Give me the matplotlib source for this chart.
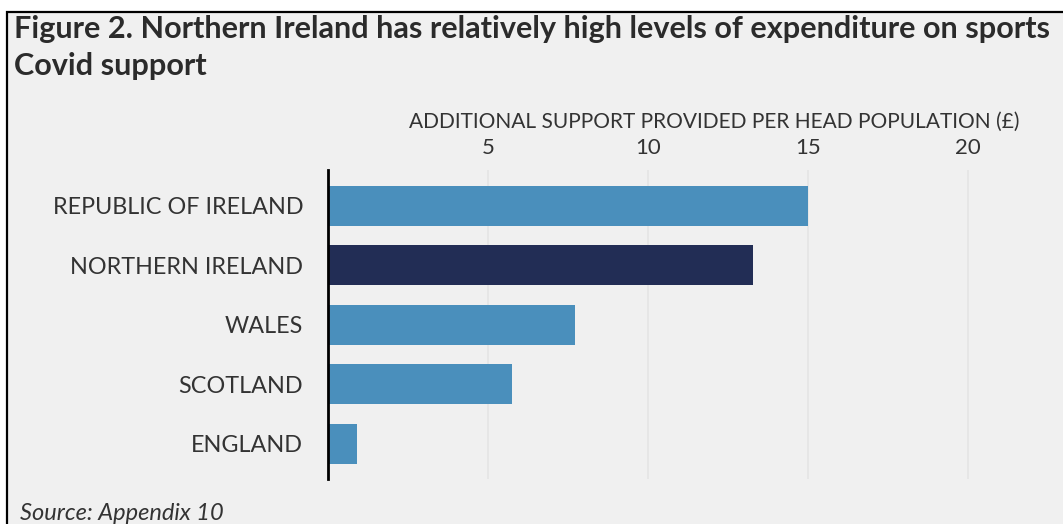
import matplotlib
matplotlib.use("Agg")
import matplotlib.pyplot as plt
from matplotlib.patches import Rectangle

categories = ["REPUBLIC OF IRELAND", "NORTHERN IRELAND", "WALES", "SCOTLAND", "ENGLAND"]
values = [15.0, 13.27, 7.73, 5.76, 0.90]
colors = ["#4A8FBC", "#222D55", "#4A8FBC", "#4A8FBC", "#4A8FBC"]
xticks = [5, 10, 15, 20]
title1 = "Figure 2. Northern Ireland has relatively high levels of expenditure on sports"
title2 = "Covid support"
xlabel = "ADDITIONAL SUPPORT PROVIDED PER HEAD POPULATION (£)"
source = "Source: Appendix 10"

W, H = 1063, 524
fig = plt.figure(figsize=(W / 100, H / 100), dpi=100, facecolor="white")

# frame
fig.patches.append(Rectangle((7 / W, -0.1), 1.2, (H - 12) / H + 0.1, transform=fig.transFigure,
                             facecolor="#F0F0F0", edgecolor="black", linewidth=1.6, zorder=-10))

left, right = 328.3, 1063
top, bottom = 170, 479.3
ax = fig.add_axes([left / W, (H - bottom) / H, (right - left) / W, (bottom - top) / H])
ax.set_facecolor("none")

y = list(range(len(categories)))
ax.barh(y, values, height=0.673, color=colors, zorder=3)
ax.set_xlim(0, (right - left) / 31.97)
ax.set_ylim(4.6, -0.6)
ax.set_yticks(y)
ax.set_yticklabels(categories, fontsize=16.8, color="#333333", family="Lato")
ax.set_xticks(xticks)
ax.set_xticklabels([str(t) for t in xticks], fontsize=16, color="#333333", family="Lato")
ax.xaxis.tick_top()
ax.tick_params(axis="x", length=0, pad=9)
ax.tick_params(axis="y", length=0, pad=18)
ax.grid(axis="x", color="#E4E4E4", linewidth=1.2, zorder=0)
for s in ["top", "right", "bottom"]:
    ax.spines[s].set_visible(False)
ax.spines["left"].set_color("black")
ax.spines["left"].set_linewidth(2)
ax.spines["left"].set_zorder(5)

fig.text(714 / W, 1 - 122 / H, xlabel, ha="center", va="center", fontsize=15,
         color="#333333", family="Lato")
fig.text(14 / W, 1 - 38 / H, title1, ha="left", va="baseline", fontsize=22.1, fontweight="bold",
         color="#2B2B2B", family="Lato")
fig.text(14 / W, 1 - 75 / H, title2, ha="left", va="baseline", fontsize=22.1, fontweight="bold",
         color="#2B2B2B", family="Lato")
fig.text(20 / W, 1 - 514 / H, source, ha="left", va="center", fontsize=17, style="italic",
         color="#333333", family="Lato")

fig.savefig("out.png", dpi=100, facecolor="white")
